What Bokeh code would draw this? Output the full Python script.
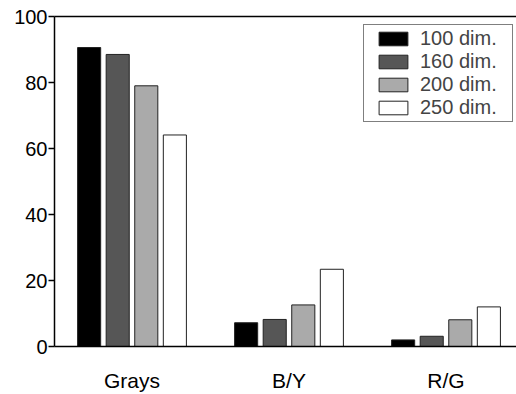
from bokeh.plotting import figure
from bokeh.models import ColumnDataSource, Range1d, FixedTicker, LinearAxis, Legend, LegendItem
from bokeh.transform import dodge
from bokeh.embed import file_html
from bokeh.resources import INLINE

categories = ["Grays", "B/Y", "R/G"]
cat_pos = [1, 2, 3]
series_names = ["100 dim.", "160 dim.", "200 dim.", "250 dim."]
dim100 = [90.6, 7.2, 2.0]
dim160 = [88.5, 8.2, 3.1]
dim200 = [79.0, 12.6, 8.1]
dim250 = [64.1, 23.4, 12.0]
y_ticks = [0, 20, 40, 60, 80, 100]

colors = ["#000000", "#565656", "#aaaaaa", "#ffffff"]
offsets = [-0.273, -0.091, 0.091, 0.273]
FONT = "Liberation Sans"

source = ColumnDataSource(dict(x=cat_pos, d100=dim100, d160=dim160, d200=dim200, d250=dim250))

p = figure(width=516, height=394, output_backend="svg", toolbar_location=None,
           x_range=Range1d(0.5064, 3.449), y_range=Range1d(0, 100),
           min_border_left=54, min_border_top=16, min_border_right=0, min_border_bottom=10)
p.outline_line_color = None
p.grid.grid_line_color = None
p.background_fill_color = "white"

items = []
for col, name, c, off in zip(["d100", "d160", "d200", "d250"], series_names, colors, offsets):
    r = p.vbar(x=dodge("x", off), top=col, width=0.147, source=source,
               fill_color=c, line_color="#222222", line_width=1)
    items.append(LegendItem(label=name, renderers=[r]))

# y axis
ya = p.yaxis[0]
ya.ticker = FixedTicker(ticks=y_ticks)
ya.minor_tick_line_color = None
ya.major_tick_in = 0
ya.major_tick_out = 6
ya.major_label_standoff = 1
ya.major_label_text_font = FONT
ya.major_label_text_font_size = "20px"
ya.major_label_text_color = "black"
ya.axis_line_width = 1.5
ya.major_tick_line_width = 1.5

# x axis
xa = p.xaxis[0]
xa.ticker = FixedTicker(ticks=cat_pos)
xa.major_label_overrides = {pos: lab for pos, lab in zip(cat_pos, categories)}
xa.major_tick_line_color = None
xa.minor_tick_line_color = None
xa.major_label_standoff = 16
xa.major_label_text_font = FONT
xa.major_label_text_font_size = "21px"
xa.major_label_text_color = "black"
xa.axis_line_width = 1.5

# top border
top = LinearAxis(ticker=FixedTicker(ticks=[]), major_tick_line_color=None,
                 minor_tick_line_color=None, major_label_text_font_size="0px",
                 axis_line_width=1.5)
p.add_layout(top, "above")

legend = Legend(items=items, location=(309, 224), glyph_width=36, glyph_height=17,
                label_height=17, label_width=90, spacing=0, padding=2, label_standoff=9,
                label_text_font=FONT, label_text_font_size="20px",
                label_text_line_height=1.0,
                title=" ", title_location="left", title_text_font_size="1px", title_standoff=8,
                border_line_color="black", border_line_width=1,
                background_fill_color="white", background_fill_alpha=1.0, margin=0)
p.add_layout(legend)

open("out.html", "w").write(file_html(p, INLINE))
